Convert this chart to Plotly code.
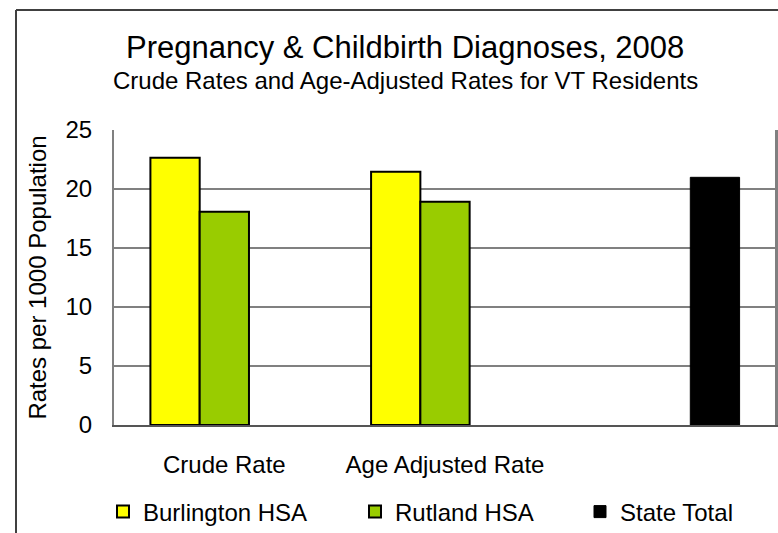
import plotly.graph_objects as go

categories = ["Crude Rate", "Age Adjusted Rate", " "]
burlington = [22.65, 21.47, None]
rutland = [18.08, 18.92, None]
state_total = [None, None, 20.99]
y_ticks = [0, 5, 10, 15, 20, 25]

FONT = "Liberation Sans, Arial, sans-serif"

fig = go.Figure()
fig.add_trace(go.Bar(name="Burlington HSA", x=categories, y=burlington,
                     marker=dict(color="#FFFF00", line=dict(color="#000000", width=2)),
                     legend="legend"))
fig.add_trace(go.Bar(name="Rutland HSA", x=categories, y=rutland,
                     marker=dict(color="#99CC00", line=dict(color="#000000", width=2)),
                     legend="legend2"))
fig.add_trace(go.Bar(name="State Total", x=categories, y=state_total,
                     marker=dict(color="#000000", line=dict(color="#000000", width=1)),
                     legend="legend3"))

L, R, T, B = 114, 2, 130, 108
W, H = 778, 533
pw, ph = W - L - R, H - T - B

def px_x(p):
    return (p - L) / pw

def px_y(p):
    return (H - B - p) / ph

leg_common = dict(orientation="h", yanchor="middle", xanchor="left",
                  font=dict(family=FONT, size=24, color="#000000"),
                  bgcolor="rgba(0,0,0,0)", itemclick=False)

fig.update_layout(
    width=W, height=H,
    margin=dict(l=L, r=R, t=T, b=B, autoexpand=False),
    paper_bgcolor="#FFFFFF", plot_bgcolor="#FFFFFF",
    barmode="group", bargap=0.33, bargroupgap=0,
    font=dict(family=FONT, color="#000000"),
    showlegend=True,
    legend=dict(x=px_x(103), y=px_y(512), **leg_common),
    legend2=dict(x=px_x(355), y=px_y(512), **leg_common),
    legend3=dict(x=px_x(580), y=px_y(512), **leg_common),
    xaxis=dict(showline=True, linecolor="#555555", linewidth=2, mirror=False,
               showgrid=False, ticks="", ticklabelstandoff=17,
               tickfont=dict(family=FONT, size=24, color="#000000"),
               fixedrange=True),
    yaxis=dict(range=[0, 25], tickvals=y_ticks, showline=True, linecolor="#808080",
               linewidth=2, mirror=True, showgrid=True, gridcolor="#808080", gridwidth=1.5,
               zeroline=False, ticks="", ticklabelstandoff=15,
               tickfont=dict(family=FONT, size=24, color="#000000"),
               title=dict(text="Rates per 1000 Population", standoff=12,
                          font=dict(family=FONT, size=24, color="#000000")),
               automargin=True, fixedrange=True),
    annotations=[
        dict(text="Pregnancy & Childbirth Diagnoses, 2008", xref="paper", yref="paper",
             x=px_x(405), y=px_y(48), xanchor="center", yanchor="middle", showarrow=False,
             font=dict(family=FONT, size=31, color="#000000")),
        dict(text="Crude Rates and Age-Adjusted Rates for VT Residents", xref="paper", yref="paper",
             x=px_x(405), y=px_y(80), xanchor="center", yanchor="middle", showarrow=False,
             font=dict(family=FONT, size=24, color="#000000")),
    ],
    shapes=[
        dict(type="line", xref="paper", yref="paper", x0=px_x(16), x1=px_x(16),
             y0=px_y(10), y1=px_y(540), line=dict(color="#404040", width=2)),
        dict(type="line", xref="paper", yref="paper", x0=px_x(16), x1=px_x(790),
             y0=px_y(10), y1=px_y(10), line=dict(color="#404040", width=2)),
        dict(type="line", xref="paper", yref="paper", x0=1, x1=1, y0=0, y1=1,
             line=dict(color="#808080", width=2)),
    ],
)

fig.write_html("out.html", config={"displayModeBar": False},
               post_script="document.body.style.margin='0';document.body.style.overflow='hidden';")
